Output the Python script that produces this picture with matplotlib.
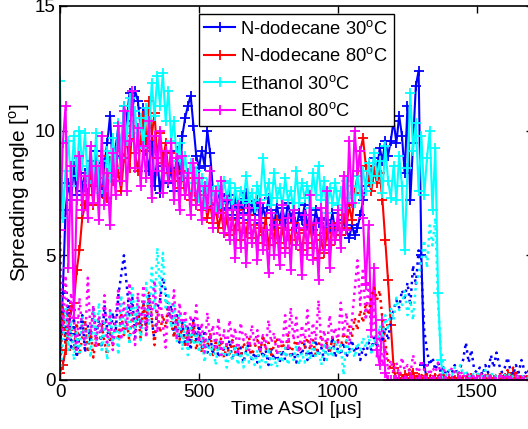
import matplotlib
matplotlib.use("Agg")
import matplotlib.pyplot as plt
import numpy as np

plt.rcParams['font.family'] = ['Liberation Sans', 'DejaVu Sans']
plt.rcParams['mathtext.fontset'] = 'custom'
plt.rcParams['mathtext.rm'] = 'Liberation Sans'

dt = 10  # sample spacing in us

# spreading angle (solid lines with + markers)
dod30 = [0.8, 3.5, 6.8, 7.9, 7.2, 8.6, 7.4, 8.9, 7.6, 8.3,
         7.1, 8.8, 7.8, 9.2, 8.1, 7.5, 8.7, 9.5, 10.6, 8.4,
         9.3, 10.2, 9.0, 11.0, 10.4, 11.5, 10.8, 11.6, 11.2, 10.1,
         10.9, 9.2, 8.4, 9.6, 7.8, 8.9, 7.5, 8.6, 9.1, 7.9,
         8.5, 7.6, 9.2, 8.0, 9.8, 10.5, 11.0, 11.4, 10.2, 9.0,
         8.5, 9.2, 8.6, 10.0, 9.1, 7.6, 7.0, 7.6, 6.8, 7.3,
         6.9, 7.4, 6.6, 7.2, 6.5, 7.1, 6.7, 7.5, 6.4, 7.0,
         6.6, 7.2, 6.3, 6.9, 6.5, 7.3, 6.8, 6.2, 7.0, 6.4,
         6.9, 6.3, 7.1, 6.5, 6.8, 6.1, 6.7, 6.4, 7.0, 6.2,
         6.6, 6.0, 6.8, 6.3, 6.5, 5.9, 6.4, 6.1, 6.7, 6.0,
         6.3, 5.8, 6.4, 6.0, 5.7, 6.2, 5.8, 6.1, 6.6, 7.2,
         7.8, 8.6, 8.2, 8.9, 8.4, 9.3, 8.8, 9.6, 9.0, 9.6,
         10.4, 9.5, 10.6, 9.8, 8.3, 11.0, 7.2, 9.5, 11.8, 12.4,
         5.0, 0.6, 0.0]

dod80 = [0.3, 0.6, 1.2, 2.0, 2.8, 3.1, 4.4, 5.2, 6.5, 7.0,
         7.4, 8.2, 7.0, 8.6, 7.8, 9.0, 8.1, 7.3, 8.8, 8.0,
         9.2, 8.3, 7.6, 8.9, 9.8, 8.5, 10.2, 9.1, 8.4, 9.6,
         10.6, 9.3, 11.2, 9.8, 10.7, 8.9, 9.9, 8.7, 9.5, 8.3,
         9.1, 8.0, 8.8, 7.7, 8.4, 7.4, 8.1, 7.2, 7.9, 7.0,
         7.6, 6.8, 7.4, 6.5, 7.1, 6.3, 6.9, 6.1, 6.7, 5.9,
         6.5, 5.8, 6.4, 6.0, 6.8, 5.6, 6.3, 5.9, 6.6, 5.7,
         6.2, 5.5, 6.1, 5.8, 6.5, 5.4, 6.0, 5.7, 6.4, 5.5,
         6.1, 5.3, 6.0, 5.6, 6.3, 5.4, 5.9, 5.2, 6.0, 5.5,
         6.2, 5.3, 5.8, 4.9, 5.6, 5.1, 5.9, 5.4, 6.1, 5.6,
         6.3, 5.8, 6.6, 6.1, 7.0, 6.4, 7.5, 8.2, 9.2, 9.7,
         8.6, 8.0, 7.6, 8.4, 7.9, 8.3, 7.2, 5.6, 4.0, 2.2,
         0.5, 0.0, 0.1, 0.0, 0.2, 0.0, 0.1, 0.3, 0.0, 0.1,
         0.0, 0.0, 0.1, 0.0, 0.0, 0.1, 0.0, 0.0, 0.0, 0.1,
         0.0, 0.0, 0.0, 0.1, 0.0, 0.0, 0.0, 0.0, 0.1, 0.0,
         0.0, 0.0, 0.0, 0.0, 0.1, 0.0, 0.0, 0.0, 0.0, 0.0,
         0.1, 0.2, 0.0, 0.3, 0.1, 0.0, 0.0, 0.0, 0.0, 0.0,
         0.0]

eth30 = [12.0, 6.5, 8.4, 9.6, 7.8, 9.8, 8.2, 10.0, 8.6, 9.9,
         7.9, 9.4, 8.0, 9.9, 7.5, 8.8, 7.6, 9.2, 8.1, 9.7,
         8.5, 10.3, 8.9, 11.0, 9.6, 11.3, 9.9, 10.8, 9.4, 10.5,
         9.3, 10.9, 9.8, 11.9, 10.6, 12.2, 11.0, 12.3, 10.4, 11.6,
         9.6, 10.4, 8.8, 9.5, 8.2, 9.0, 7.9, 8.7, 7.6, 8.4,
         7.3, 8.1, 7.0, 7.9, 7.2, 7.6, 6.9, 7.8, 7.1, 8.0,
         7.3, 7.9, 6.8, 7.7, 7.0, 7.6, 7.2, 8.2, 7.1, 7.5,
         6.9, 7.8, 7.2, 8.9, 7.4, 7.9, 7.0, 8.3, 7.3, 7.7,
         7.0, 8.1, 7.2, 7.6, 6.8, 8.4, 7.1, 7.9, 7.3, 7.8,
         6.9, 8.3, 7.4, 8.6, 7.2, 8.0, 6.7, 7.7, 7.1, 7.9,
         7.0, 7.6, 6.9, 8.0, 7.3, 7.8, 7.1, 8.2, 7.4, 8.4,
         7.6, 8.7, 7.9, 9.1, 8.2, 8.8, 7.5, 9.4, 8.0, 7.3,
         8.6, 7.2, 9.0, 7.8, 5.2, 8.5, 11.5, 9.2, 10.3, 7.6,
         9.8, 7.4, 8.9, 10.0, 6.8, 9.3, 3.5, 0.8, 0.0]

eth80 = [6.0, 9.5, 11.0, 4.5, 8.6, 2.5, 7.2, 9.0, 6.8, 8.2,
         6.5, 9.4, 7.1, 8.6, 6.4, 9.8, 7.0, 8.3, 6.2, 9.1,
         7.4, 10.2, 8.0, 10.8, 7.6, 9.6, 11.6, 8.5, 10.1, 7.8,
         9.4, 8.1, 10.4, 7.3, 9.8, 8.4, 10.0, 7.5, 9.2, 8.0,
         9.5, 7.2, 8.9, 6.8, 9.0, 7.4, 8.3, 6.6, 8.7, 7.0,
         8.1, 6.4, 7.8, 6.9, 8.4, 6.1, 7.6, 6.7, 8.0, 5.9,
         7.2, 5.6, 6.8, 4.9, 7.0, 5.3, 6.6, 4.7, 6.9, 5.5,
         6.4, 4.8, 7.1, 5.2, 6.0, 4.3, 6.7, 5.0, 6.2, 4.6,
         7.0, 5.1, 6.5, 4.4, 6.8, 5.4, 6.1, 4.2, 6.6, 5.0,
         7.4, 4.8, 6.3, 4.0, 6.9, 5.2, 7.6, 4.5, 6.2, 5.6,
         6.8, 5.3, 8.2, 6.0, 9.6, 7.1, 10.0, 8.4, 9.2, 6.5,
         3.8, 6.2, 2.0, 4.5, 1.2, 0.6, 2.4, 0.3, 0.0, 0.0,
         0.0, 0.0, 0.0, 0.0, 0.0, 0.0, 0.0, 0.0, 0.0, 0.0,
         0.0, 0.0, 0.0, 0.0, 0.0, 0.0, 0.0, 0.0, 0.0, 0.0,
         0.0, 0.0, 0.0, 0.0, 0.0, 0.0, 0.0, 0.0, 0.0, 0.0,
         0.0, 0.0, 0.0, 0.0, 0.0, 0.0, 0.0, 0.0, 0.0, 0.0,
         0.0, 0.0, 0.0, 0.0, 0.0, 0.0, 0.0, 0.0, 0.0, 0.0,
         0.0]

# second quantity (dotted lines)
dod30_b = [0.5, 2.8, 1.6, 3.2, 1.2, 2.5, 0.9, 1.8, 2.6, 1.1,
           2.2, 1.5, 2.9, 1.8, 2.4, 1.3, 3.0, 2.0, 1.6, 2.7,
           1.9, 3.4, 4.2, 5.0, 3.8, 2.6, 3.3, 1.7, 2.8, 2.2,
           3.1, 2.0, 3.5, 2.4, 1.6, 2.9, 3.2, 4.1, 3.6, 2.5,
           3.0, 1.8, 2.6, 1.5, 2.3, 1.4, 2.1, 1.2, 2.4, 1.6,
           2.2, 1.3, 2.0, 1.1, 1.8, 1.0, 1.6, 0.9, 1.5, 1.2,
           1.0, 1.6, 0.8, 1.4, 0.9, 1.3, 0.7, 1.2, 1.5, 0.8,
           1.1, 0.7, 1.4, 0.9, 1.2, 0.6, 1.3, 0.8, 1.0, 0.7,
           1.2, 0.8, 1.4, 0.9, 1.1, 0.7, 1.3, 1.0, 1.5, 0.8,
           1.2, 0.9, 1.6, 1.0, 1.3, 0.8, 1.4, 1.1, 1.7, 0.9,
           1.3, 1.0, 1.5, 0.9, 1.2, 1.6, 1.1, 1.4, 0.8, 1.3,
           1.0, 1.5, 1.2, 1.7, 1.3, 1.9, 1.5, 2.1, 1.6, 2.4,
           2.8, 3.2, 2.9, 3.6, 3.3, 3.9, 3.0, 4.6, 3.8, 5.2,
           4.4, 2.0, 1.2, 0.6, 0.9, 0.4, 0.7, 0.3, 0.5, 0.2,
           0.4, 0.3, 0.6, 0.2, 0.5, 0.8, 1.5, 0.7, 1.2, 0.4,
           0.3, 0.5, 0.2, 0.6, 0.3, 1.0, 0.5, 1.1, 0.6, 0.3,
           0.5, 0.9, 0.4, 0.2, 0.6, 0.3, 0.8, 0.4, 0.2, 0.5,
           0.3]

dod80_b = [0.2, 3.0, 1.4, 2.6, 1.9, 1.2, 2.3, 1.0, 1.7, 2.4,
           1.1, 2.0, 0.9, 1.8, 1.3, 2.2, 1.5, 1.0, 1.9, 1.4,
           2.1, 1.6, 2.7, 1.8, 2.4, 1.5, 2.9, 2.0, 2.6, 1.7,
           3.0, 2.2, 3.5, 2.5, 1.4, 2.8, 1.9, 2.6, 2.1, 3.1,
           2.3, 1.7, 2.5, 1.6, 2.2, 1.3, 2.0, 1.5, 2.3, 1.2,
           1.8, 1.1, 1.6, 1.3, 1.9, 1.0, 1.5, 1.2, 1.7, 0.9,
           1.4, 1.0, 1.6, 1.1, 1.3, 0.9, 1.5, 1.2, 1.7, 1.0,
           1.3, 1.6, 1.1, 1.8, 1.2, 1.5, 1.0, 1.4, 1.7, 1.1,
           1.5, 1.2, 1.8, 1.0, 1.4, 1.6, 1.1, 1.5, 1.3, 1.7,
           1.2, 1.6, 1.0, 1.4, 1.8, 1.3, 1.5, 1.1, 1.7, 1.4,
           1.6, 1.3, 1.9, 1.5, 2.2, 1.7, 2.5, 2.0, 2.8, 2.3,
           3.1, 2.6, 3.4, 3.7, 3.2, 3.6, 2.4, 1.5, 0.8, 0.4,
           0.3, 0.2, 0.4, 0.1, 0.3, 0.2, 0.5, 0.3, 0.2, 0.1,
           0.2, 0.1, 0.3, 0.2, 0.1, 0.2, 0.1, 0.3, 0.2, 0.1,
           0.1, 0.2, 0.1, 0.3, 0.2, 0.1, 0.2, 0.1, 0.2, 0.1,
           0.2, 0.1, 0.3, 0.2, 0.1, 0.2, 0.1, 0.2, 0.3, 0.1,
           0.2, 0.4, 0.2, 0.5, 0.3, 0.2, 0.1, 0.2, 0.1, 0.2,
           0.1]

eth30_b = [0.0, 1.5, 2.9, 1.2, 2.4, 0.8, 1.9, 1.1, 2.6, 1.3,
           2.0, 0.9, 2.8, 1.6, 3.1, 1.2, 2.3, 0.8, 2.7, 1.5,
           2.2, 1.0, 3.4, 1.8, 2.9, 1.4, 3.8, 2.1, 3.2, 1.6,
           2.6, 3.9, 2.2, 4.5, 2.8, 5.3, 3.6, 5.1, 2.9, 3.5,
           2.1, 3.0, 1.5, 2.6, 1.2, 2.4, 1.0, 2.2, 1.4, 1.9,
           1.1, 1.8, 0.7, 1.6, 1.0, 1.4, 0.6, 1.5, 0.9, 1.3,
           0.5, 1.2, 0.8, 1.4, 0.6, 1.1, 0.5, 1.3, 0.7, 1.0,
           0.6, 1.2, 0.5, 1.0, 0.7, 1.3, 0.6, 0.9, 0.5, 1.1,
           0.7, 1.3, 0.6, 1.0, 0.8, 1.4, 0.6, 1.1, 0.7, 1.2,
           0.8, 1.5, 0.9, 1.2, 0.6, 1.4, 0.8, 1.3, 0.9, 1.6,
           1.0, 1.4, 0.2, 1.6, 1.1, 1.3, 0.9, 1.5, 1.2, 1.7,
           1.3, 1.8, 1.1, 1.6, 1.4, 2.2, 1.7, 2.6, 2.0, 2.9,
           2.4, 3.3, 2.8, 3.0, 3.6, 2.6, 3.2, 2.4, 3.8, 4.2,
           4.8, 5.6, 4.5, 6.2, 5.4, 6.5, 3.0, 1.2, 0.5, 0.2,
           0.4, 0.2, 0.5, 0.3, 0.6, 0.2, 0.4, 0.1, 0.3, 0.2,
           0.3, 0.1, 0.2, 0.4, 0.1, 0.2, 0.3, 0.1, 0.2, 0.1,
           0.2, 0.1, 0.3, 0.1, 0.2, 0.1, 0.1, 0.2, 0.1, 0.1,
           0.1]

eth80_b = [5.8, 2.0, 4.2, 1.6, 3.5, 2.4, 1.1, 3.3, 2.0, 1.4,
           4.1, 1.8, 3.0, 1.3, 2.6, 1.9, 3.4, 1.5, 2.8, 1.2,
           2.5, 3.7, 1.6, 3.1, 2.0, 3.9, 2.3, 1.4, 3.5, 2.1,
           3.8, 1.7, 3.3, 2.6, 4.0, 1.9, 3.4, 2.2, 1.3, 3.0,
           2.4, 3.6, 1.6, 3.1, 2.0, 2.8, 1.4, 2.6, 1.8, 3.0,
           1.5, 2.3, 1.1, 2.7, 1.6, 2.2, 1.2, 2.5, 1.0, 2.0,
           1.3, 2.4, 1.5, 2.1, 1.0, 2.3, 1.6, 1.9, 1.2, 2.2,
           1.4, 2.0, 1.1, 1.8, 1.3, 2.4, 1.5, 1.9, 1.0, 1.7,
           1.4, 2.6, 1.2, 2.9, 1.6, 2.5, 1.1, 2.2, 1.5, 2.8,
           1.3, 2.3, 1.6, 3.2, 1.4, 2.0, 1.2, 2.6, 1.7, 2.1,
           1.5, 3.1, 1.8, 2.7, 1.4, 2.4, 3.6, 4.8, 3.0, 4.5,
           2.4, 4.0, 1.6, 3.2, 0.9, 2.0, 0.6, 1.3, 0.4, 0.8,
           0.3, 0.7, 0.2, 0.9, 0.4, 0.6, 0.2, 1.0, 0.5, 0.3,
           0.8, 0.4, 0.6, 0.2, 0.5, 0.3, 0.7, 0.2, 0.4, 0.3,
           0.2, 0.5, 0.3, 0.2, 0.4, 0.1, 0.3, 0.2, 0.1, 0.2,
           0.1, 0.3, 0.1, 0.2, 0.1, 0.2, 0.1, 0.1, 0.2, 0.1,
           0.1, 0.2, 0.1, 0.1, 0.2, 0.1, 0.1, 0.1, 0.1, 0.1,
           0.1]

labels = [r'N-dodecane 30$^{\mathrm{o}}$C', r'N-dodecane 80$^{\mathrm{o}}$C',
          r'Ethanol 30$^{\mathrm{o}}$C', r'Ethanol 80$^{\mathrm{o}}$C']
colors = ['#0000ff', '#ff0000', '#00ffff', '#ff00ff']
solid = [dod30, dod80, eth30, eth80]
dotted = [dod30_b, dod80_b, eth30_b, eth80_b]

fig = plt.figure()
fig.set_size_inches(5.28, 4.29)
ax = fig.add_axes([60/528, 49/429, 472.6/528, 374/429])

for y, c, lab in zip(solid, colors, labels):
    t = np.arange(len(y)) * dt
    ax.plot(t, y, '-+', color=c, lw=1.5, ms=6.5, mew=1.3, label=lab)
for y, c in zip(dotted, colors):
    t = np.arange(len(y)) * dt
    ax.plot(t, y, ':', color=c, lw=1.8)

ax.set_xlim(0, 1700)
ax.set_ylim(0, 15)
ax.set_xticks([0, 500, 1000, 1500])
ax.set_yticks([0, 5, 10, 15])
ax.tick_params(direction='in', top=True, right=True, length=5, width=1,
               labelsize=13.5, pad=3)
for s in ax.spines.values():
    s.set_linewidth(1.2)
ax.set_xlabel('Time ASOI [\u00b5s]', fontsize=14, labelpad=0)
ax.set_ylabel(r'Spreading angle [$^{\mathrm{o}}$]', fontsize=15, labelpad=2)

leg = ax.legend(loc='upper left', bbox_to_anchor=(0.294, 0.978), fontsize=13.2,
                frameon=True, fancybox=False, edgecolor='black', framealpha=1,
                handlelength=1.65, handletextpad=0.3, labelspacing=0.52,
                borderpad=0.3, borderaxespad=0)
leg.get_frame().set_linewidth(1.0)

plt.savefig('out.png', dpi=100)
